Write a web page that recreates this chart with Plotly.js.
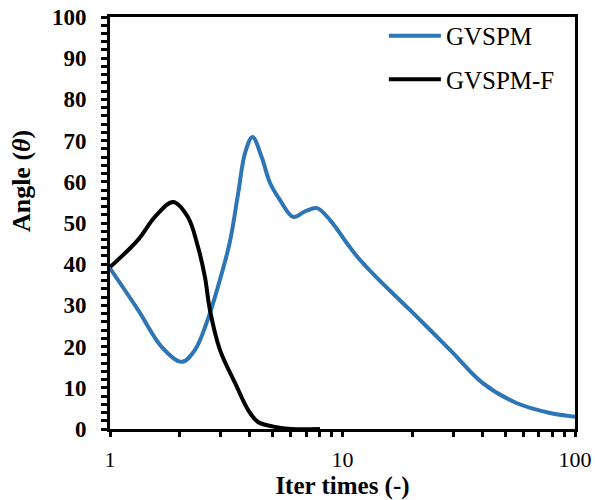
<!DOCTYPE html>
<html>
<head>
<meta charset="utf-8">
<script src="https://cdn.plot.ly/plotly-3.0.1.min.js"></script>
<style>html,body{margin:0;padding:0;background:#fff;}#chart{width:595px;height:500px;}</style>
</head>
<body>
<div id="chart"></div>
<script>
// Data
const gvspmX = [1, 1.32, 1.67, 2.04, 2.32, 2.63, 2.97, 3.28, 3.56, 3.81, 4.1, 4.49, 4.88, 5.38, 6.13, 6.9, 7.77, 8.84, 10.45, 11.7, 14, 19.5, 29, 40, 56, 78, 100];
const gvspmY = [39, 28.9, 19.9, 16.3, 19.2, 26.5, 36.2, 45.5, 57.3, 67, 70.9, 66, 59.7, 55.6, 51.5, 52.8, 53.6, 50.7, 45.1, 41.5, 36.8, 28.9, 19.2, 11.2, 6.3, 3.9, 3];
const gvspmFX = [1, 1.32, 1.56, 1.87, 2.16, 2.39, 2.56, 2.69, 2.97, 3.45, 3.93, 4.33, 5.13, 6, 8];
const gvspmFY = [39.3, 45.9, 51.5, 55.1, 51.5, 44.2, 36.9, 28.9, 19.2, 11.2, 4.6, 1.7, 0.5, 0, 0];
const seriesNames = ["GVSPM", "GVSPM-F"];

const FONT = "Liberation Serif, Times New Roman, serif";

const traces = [
  {x: gvspmX, y: gvspmY, name: seriesNames[0], type: "scatter", mode: "lines",
   line: {color: "#2E75B6", width: 4, shape: "spline", smoothing: 1}, legendgroup: "a"},
  {x: gvspmFX, y: gvspmFY, name: seriesNames[1], type: "scatter", mode: "lines",
   line: {color: "#000000", width: 4, shape: "spline", smoothing: 1}, legendgroup: "b"}
];

const layout = {
  width: 595, height: 500,
  margin: {l: 110, r: 20, t: 17, b: 71},
  showlegend: true,
  legend: {x: 0.589, y: 1.01, xanchor: "left", yanchor: "top", bgcolor: "rgba(0,0,0,0)",
           font: {family: FONT, size: 25, color: "#000"}, itemwidth: 52, tracegroupgap: 8},
  xaxis: {
    type: "log", range: [0, 2], tickmode: "linear", tick0: 0, dtick: 1,
    showgrid: false, zeroline: false, showline: true, linecolor: "#000", linewidth: 3, mirror: true,
    ticks: "outside", ticklen: 5, tickwidth: 3, tickcolor: "#000", layer: "above traces",
    minor: {dtick: "D1", ticks: "outside", ticklen: 5, tickwidth: 3, tickcolor: "#000", showgrid: false},
    tickfont: {family: FONT, size: 22, color: "#000"}, ticklabelstandoff: 4,
    title: {text: "<b>Iter times (-)</b>", font: {family: FONT, size: 25, color: "#000"}, standoff: 5}
  },
  yaxis: {
    range: [0, 100], tickmode: "linear", tick0: 0, dtick: 10,
    showgrid: false, zeroline: false, showline: true, linecolor: "#000", linewidth: 3, mirror: true,
    ticks: "outside", ticklen: 6, tickwidth: 3, tickcolor: "#000", layer: "above traces",
    minor: {dtick: 2, ticks: "outside", ticklen: 6, tickwidth: 3, tickcolor: "#000", showgrid: false},
    tickfont: {family: FONT, size: 23, color: "#000", weight: "bold"}, ticklabelstandoff: 10
  },
  annotations: [{
    text: "<b>Angle (<i>θ</i>)</b>", xref: "paper", yref: "paper",
    x: -0.189, y: 0.602, xanchor: "center", yanchor: "middle", textangle: -90, showarrow: false,
    font: {family: FONT, size: 26, color: "#000"}
  }]
};

Plotly.newPlot("chart", traces, layout, {staticPlot: true, displayModeBar: false});
</script>
</body>
</html>
